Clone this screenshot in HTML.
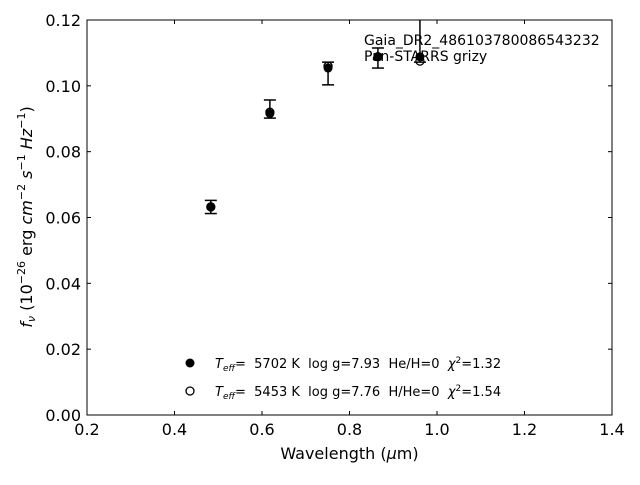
<!DOCTYPE html>
<html><head><meta charset="utf-8"><style>
body{margin:0;background:#fff}
svg text{font-family:"DejaVu Sans","Liberation Sans",sans-serif;white-space:pre}
</style></head><body>
<svg id="chart" width="640" height="480" xmlns="http://www.w3.org/2000/svg" xml:space="preserve">
<rect width="640" height="480" fill="#fff"/>
<g id="axes"></g>
<g id="marks"></g>
<text x="364" y="45" font-size="14">Gaia_DR2_486103780086543232</text>
<text x="364" y="61" font-size="14">Pan-STARRS grizy</text>
<g font-size="13">
<circle cx="190" cy="363" r="4.5" fill="#000"/>
<text x="215" y="368"><tspan font-style="italic">T</tspan><tspan font-style="italic" font-size="9" dy="3">eff</tspan><tspan dy="-3">=  5702 K  log g=7.93  He/H=0  </tspan><tspan font-style="italic">χ</tspan><tspan font-size="9" dy="-5">2</tspan><tspan dy="5">=1.32</tspan></text>
<circle cx="190" cy="391" r="4" fill="#fff" stroke="#000" stroke-width="1.3"/>
<text x="215" y="396"><tspan font-style="italic">T</tspan><tspan font-style="italic" font-size="9" dy="3">eff</tspan><tspan dy="-3">=  5453 K  log g=7.76  H/He=0  </tspan><tspan font-style="italic">χ</tspan><tspan font-size="9" dy="-5">2</tspan><tspan dy="5">=1.54</tspan></text>
</g>
</svg>
<script>
const wavelengths=[0.483,0.618,0.751,0.865,0.961];
const fluxFilled=[0.0633,0.0916,0.1054,0.1089,0.1088];
const errLow=[0.0612,0.0902,0.1003,0.1054,0.1072];
const errHigh=[0.0652,0.0957,0.1072,0.1115,0.125];
const fluxOpen=[0.0632,0.0920,0.1060,0.1088,0.1075];
const xTicks=[0.2,0.4,0.6,0.8,1.0,1.2,1.4];
const yTicks=[0.00,0.02,0.04,0.06,0.08,0.10,0.12];
const L=87,R=612,T=20,B=415;
const xs=v=>L+(v-0.2)/1.2*(R-L);
const ys=v=>B-v/0.12*(B-T);
const NS="http://www.w3.org/2000/svg";
function mk(tag,attrs,parent){const e=document.createElementNS(NS,tag);for(const k in attrs)e.setAttribute(k,attrs[k]);parent.appendChild(e);return e;}
const ax=document.getElementById('axes'),mg=document.getElementById('marks');
const frame=mk('rect',{x:L,y:T,width:R-L,height:B-T,fill:'none',stroke:'#000','stroke-width':1},ax);


xTicks.forEach(v=>{
 const x=xs(v);
 mk('line',{x1:x,x2:x,y1:B,y2:B-4,stroke:'#000'},ax);
 mk('line',{x1:x,x2:x,y1:T,y2:T+4,stroke:'#000'},ax);
 const t=mk('text',{x:x,y:B+20,'font-size':16,'text-anchor':'middle'},ax);
 t.textContent=v.toFixed(1);
 
 
});
yTicks.forEach(v=>{
 const y=ys(v);
 mk('line',{x1:L,x2:L+4,y1:y,y2:y,stroke:'#000'},ax);
 mk('line',{x1:R,x2:R-4,y1:y,y2:y,stroke:'#000'},ax);
 const t=mk('text',{x:L-6,y:y+6,'font-size':16,'text-anchor':'end'},ax);
 t.textContent=v.toFixed(2);
 
 
});
const xt=mk('text',{x:(L+R)/2,y:459,'font-size':16,'text-anchor':'middle'},ax);
xt.innerHTML='Wavelength (<tspan font-style="italic">μ</tspan>m)';


const yt=mk('text',{transform:'translate(32,217) rotate(-90)','font-size':16,'text-anchor':'middle'},ax);
yt.innerHTML='<tspan font-style="italic">f</tspan><tspan font-style="italic" font-size="11" dy="3">ν</tspan><tspan dy="-3"> (10</tspan><tspan font-size="11" dy="-7">−26</tspan><tspan dy="7"> erg </tspan><tspan font-style="italic">cm</tspan><tspan font-size="11" dy="-7">−2</tspan><tspan dy="7" font-style="italic"> s</tspan><tspan font-size="11" dy="-7">−1</tspan><tspan dy="7" font-style="italic"> Hz</tspan><tspan font-size="11" dy="-7">−1</tspan><tspan dy="7">)</tspan>';


const clip=mk('clipPath',{id:'pc'},mk('defs',{},mg));
mk('rect',{x:L,y:T,width:R-L,height:B-T},clip);
const g=mk('g',{'clip-path':'url(#pc)'},mg);
wavelengths.forEach((w,i)=>{
 const x=xs(w);
 const o=mk('circle',{cx:x,cy:ys(fluxOpen[i]),r:4,fill:'#fff',stroke:'#000','stroke-width':1.3},g);
 
 
 const eb=mk('g',{stroke:'#000','stroke-width':1.5},g);
 
 
 mk('line',{x1:x,x2:x,y1:ys(errLow[i]),y2:ys(errHigh[i])},eb);
 mk('line',{x1:x-6,x2:x+6,y1:ys(errLow[i]),y2:ys(errLow[i])},eb);
 mk('line',{x1:x-6,x2:x+6,y1:ys(errHigh[i]),y2:ys(errHigh[i])},eb);
 const f=mk('circle',{cx:x,cy:ys(fluxFilled[i]),r:4.5,fill:'#000'},g);
 
 
});
</script>
</body></html>
